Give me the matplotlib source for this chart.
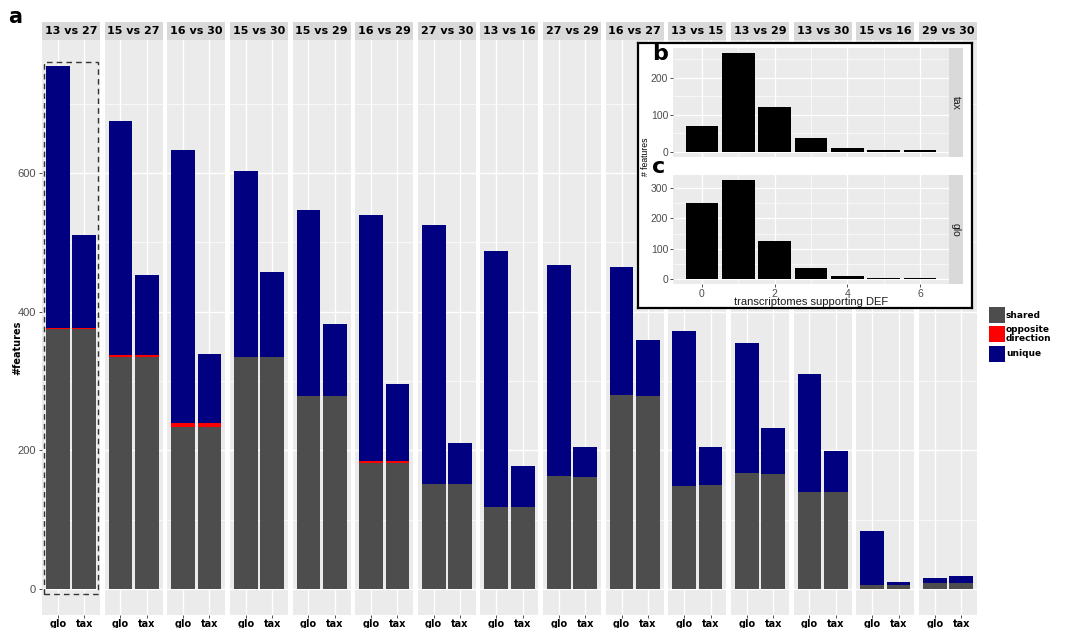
import numpy as np
import matplotlib
matplotlib.use("Agg")
import matplotlib.pyplot as plt
from matplotlib.patches import Rectangle

plt.rcParams["font.family"] = "DejaVu Sans"

# dados
pares = ["13 vs 27", "15 vs 27", "16 vs 30", "15 vs 30", "15 vs 29", "16 vs 29",
         "27 vs 30", "13 vs 16", "27 vs 29", "16 vs 27", "13 vs 15", "13 vs 29",
         "13 vs 30", "15 vs 16", "29 vs 30"]

glo_shared = [375, 335, 233, 335, 278, 181, 151, 118, 163, 280, 148, 167, 140, 5, 9]
glo_opposite = [2, 2, 6, 0, 0, 3, 0, 0, 0, 0, 0, 0, 0, 0, 0]
glo_unique = [377, 338, 394, 268, 269, 355, 374, 369, 304, 184, 224, 188, 170, 78, 7]

tax_shared = [375, 335, 233, 335, 278, 181, 151, 118, 161, 278, 150, 166, 140, 5, 9]
tax_opposite = [2, 2, 6, 0, 0, 3, 0, 0, 0, 0, 0, 0, 0, 0, 0]
tax_unique = [133, 116, 100, 122, 104, 112, 59, 59, 44, 81, 55, 66, 59, 5, 10]

# inset: numero de transcriptomas que suportam DEF
transcriptomas = [0, 1, 2, 3, 4, 5, 6]
inset_tax = [70, 266, 121, 38, 11, 5, 5]
inset_glo = [251, 327, 125, 35, 9, 2, 5]

cor_shared = "#4D4D4D"
cor_opp = "#FF0000"
cor_uni = "#000080"
fundo = "#EBEBEB"
faixa = "#D9D9D9"

W, H = 1065, 628
fig = plt.figure(figsize=(W / 100, H / 100), dpi=100)


def eixo(x0, y0, x1, y1):
    # coordenadas em pixels (origem no topo) -> fracao da figura
    return fig.add_axes([x0 / W, 1 - y1 / H, (x1 - x0) / W, (y1 - y0) / H])


def estilo_gg(ax):
    ax.set_facecolor(fundo)
    for s in ax.spines.values():
        s.set_visible(False)
    ax.set_axisbelow(True)


ymin, ymax = -37.7, 791.7
passo = 62.64
largura = 58

for i, par in enumerate(pares):
    x0 = 42 + i * passo
    ax = eixo(x0, 40, x0 + largura, 615)
    estilo_gg(ax)
    for y in [100, 300, 500, 700]:
        ax.axhline(y, color="white", lw=0.5, zorder=0)
    for y in [0, 200, 400, 600]:
        ax.axhline(y, color="white", lw=1.0, zorder=0)
    for x in [1, 2]:
        ax.axvline(x, color="white", lw=1.0, zorder=0)

    sh = [glo_shared[i], tax_shared[i]]
    op = [glo_opposite[i], tax_opposite[i]]
    un = [glo_unique[i], tax_unique[i]]
    pos = [1, 2]
    ax.bar(pos, sh, width=0.9, color=cor_shared, zorder=2)
    ax.bar(pos, op, width=0.9, bottom=sh, color=cor_opp, zorder=2)
    ax.bar(pos, un, width=0.9, bottom=np.array(sh) + np.array(op), color=cor_uni, zorder=2)

    ax.set_xlim(0.4, 2.6)
    ax.set_ylim(ymin, ymax)
    ax.set_xticks(pos)
    ax.set_xticklabels(["glo", "tax"], fontsize=7, fontweight="bold", color="black")
    ax.tick_params(axis="x", length=2, width=0.6, color="#333333", pad=1)
    if i == 0:
        ax.set_yticks([0, 200, 400, 600])
        ax.set_yticklabels(["0", "200", "400", "600"], fontsize=8,
                           color="#4D4D4D", family="Liberation Sans")
        ax.tick_params(axis="y", length=2.5, width=0.6, color="#333333", pad=2)
        # destaque tracejado do primeiro par
        ax.add_patch(Rectangle((0.47, -8), 2.06, 768, fill=False, ls=(0, (4, 3)),
                               lw=1.0, edgecolor="#333333", zorder=4, clip_on=False))
    else:
        ax.set_yticks([])

    st = eixo(x0, 22, x0 + largura, 40)
    st.set_facecolor(faixa)
    st.set_xticks([])
    st.set_yticks([])
    for s in st.spines.values():
        s.set_visible(False)
    st.text(0.5, 0.5, par, ha="center", va="center", fontsize=8, fontweight="bold",
            transform=st.transAxes)

fig.text(17 / W, 1 - 348 / H, "#features", rotation=90, fontsize=7, fontweight="bold",
         ha="center", va="center")
fig.text(8 / W, 1 - 17 / H, "a", fontsize=15, fontweight="bold", va="center")

# legenda
itens = [(cor_shared, "shared", 315), (cor_opp, "opposite\ndirection", 334), (cor_uni, "unique", 354)]
for cor, rot, yc in itens:
    fig.patches.append(Rectangle((989 / W, 1 - (yc + 8) / H), 16 / W, 16 / H,
                                 facecolor=cor, transform=fig.transFigure, figure=fig))
    fig.text(1006 / W, 1 - yc / H, rot, fontsize=6.5, fontweight="bold", va="center",
             linespacing=0.95)

# inset b / c
caixa = eixo(638, 43, 972, 308)
caixa.set_xticks([])
caixa.set_yticks([])
caixa.set_facecolor("white")
for s in caixa.spines.values():
    s.set_linewidth(1.6)
    s.set_color("black")
caixa.set_zorder(5)


def painel_inset(y0, y1, vals, yt, rot, letra, y_letra):
    ax = eixo(673, y0, 949, y1)
    ax.set_zorder(6)
    estilo_gg(ax)
    ax.bar(transcriptomas, vals, width=0.9, color="black", zorder=2)
    ax.set_ylim(-max(vals) * 0.05, max(vals) * 1.05)
    ax.set_xlim(-0.795, 6.795)
    ax.set_yticks(yt)
    ax.set_xticks([0, 2, 4, 6])
    ax.set_xticks([1, 3, 5], minor=True)
    ax.set_yticks([50, 150, 250], minor=True)
    ax.grid(which="major", color="white", lw=0.9, zorder=0)
    ax.grid(which="minor", color="white", lw=0.45, zorder=0)
    ax.tick_params(axis="both", which="major", labelsize=7.5, labelcolor="#4D4D4D",
                   length=2, width=0.6, color="#333333", pad=1.5)
    ax.tick_params(which="minor", length=0)
    for lab in ax.get_xticklabels() + ax.get_yticklabels():
        lab.set_family("Liberation Sans")
    st = eixo(949, y0, 963, y1)
    st.set_zorder(6)
    st.set_facecolor(faixa)
    st.set_xticks([])
    st.set_yticks([])
    for s in st.spines.values():
        s.set_visible(False)
    st.text(0.5, 0.5, rot, rotation=-90, ha="center", va="center", fontsize=7.5,
            color="#1A1A1A", family="Liberation Sans", transform=st.transAxes)
    fig.text(652 / W, 1 - y_letra / H, letra, fontsize=16, fontweight="bold",
             va="center", zorder=10)
    return ax


ax_b = painel_inset(48, 157, inset_tax, [0, 100, 200], "tax", "b", 54)
ax_b.tick_params(axis="x", labelbottom=False, length=0)
ax_c = painel_inset(175, 284, inset_glo, [0, 100, 200, 300], "glo", "c", 167)
ax_c.set_xlabel("transcriptomes supporting DEF", fontsize=8, family="Liberation Sans",
                labelpad=-1, color="#1A1A1A")
fig.text(645 / W, 1 - 157 / H, "# features", rotation=90, fontsize=6.2,
         family="Liberation Sans", ha="center", va="center", zorder=10)

fig.savefig("out.png", dpi=100)
